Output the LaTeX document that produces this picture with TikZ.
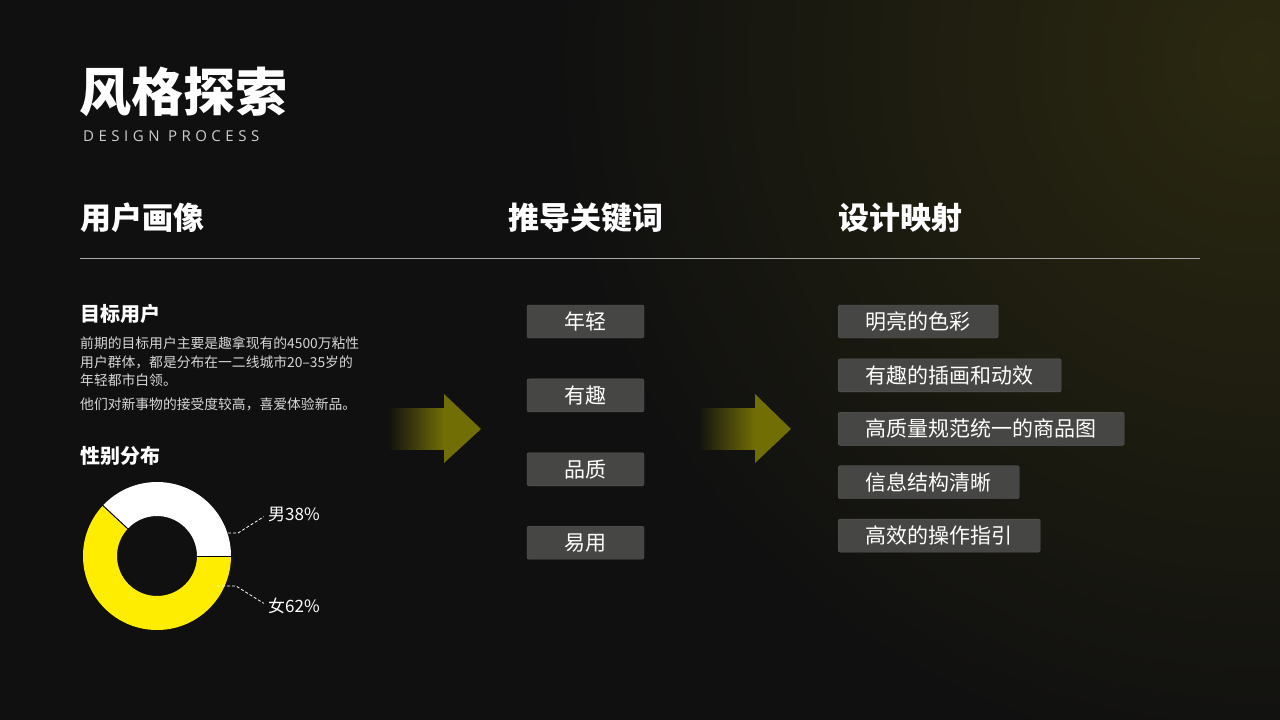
\documentclass[tikz,border=0pt]{standalone}
\usepackage{fontspec}
\setmainfont{Noto Sans CJK SC}
\newfontfamily\latinfont[LetterSpace=30]{Open Sans}
\usepackage{tikz}
\usetikzlibrary{positioning,calc,fadings}

\definecolor{bgcol}{RGB}{16,16,16}
\definecolor{glowcol}{RGB}{58,55,16}
\definecolor{arrowcol}{RGB}{114,110,6}
\definecolor{boxcol}{RGB}{70,70,68}
\definecolor{boxline}{RGB}{90,90,86}
\definecolor{donutyellow}{RGB}{255,237,0}
\definecolor{ruleline}{RGB}{170,170,170}
\definecolor{paratext}{RGB}{215,215,215}
\definecolor{subtext}{RGB}{205,205,205}

\tikzfading[name=glowfade, inner color=transparent!35, outer color=transparent!100]

\tikzstyle{title} = [anchor=west, inner sep=0, text=white,
                     font=\fontsize{52}{60}\selectfont\bfseries]
\tikzstyle{heading} = [anchor=west, inner sep=0, text=white,
                       font=\fontsize{31}{36}\selectfont\bfseries]
\tikzstyle{subhead} = [anchor=west, inner sep=0, text=white,
                       font=\fontsize{20}{24}\selectfont\bfseries]
\tikzstyle{para} = [anchor=north west, inner sep=0, align=left, text=paratext,
                    font=\fontsize{13.8}{18.5}\selectfont]
\tikzstyle{keybox} = [rectangle, draw=boxline, fill=boxcol, rounded corners=2pt,
    minimum width=117pt, minimum height=33pt, text=white,
    font=\fontsize{21}{24}\selectfont]
\tikzstyle{mapbox} = [keybox, minimum width=0pt, inner xsep=27.5pt]
\tikzstyle{leader} = [draw=white, densely dashed, line width=0.8pt]
\tikzstyle{pielabel} = [anchor=west, inner sep=0, text=white,
                        font=\fontsize{17}{20}\selectfont]

% fading shaft + solid head, #1 shaft start, #2 head base, #3 tip
\newcommand{\fadearrow}[3]{%
  \fill[arrowcol, path fading=west] (#1,408) rectangle (#2,450);
  \fill[arrowcol] (#2,394) -- (#3,429) -- (#2,463) -- cycle;
}

\begin{document}
\begin{tikzpicture}[x=1pt, y=-1pt]
  % Background
  \useasboundingbox (0,0) rectangle (1280,720);
  \fill[bgcol] (0,0) rectangle (1280,720);
  \fill[glowcol, path fading=glowfade] (1260,60) circle (720);

  % Title
  \node [title] (title) at (79,92) {风格探索};
  \node [anchor=west, inner sep=0, text=subtext,
         font=\latinfont\fontsize{15}{18}\selectfont] (subtitle) at (83,136) {DESIGN PROCESS};

  % Column headings
  \node [heading] (persona) at (80,218) {用户画像};
  \node [heading] (keywords) at (508,218) {推导关键词};
  \node [heading] (mapping) at (838,218) {设计映射};
  \draw [ruleline, line width=0.8pt] (80,258) -- (1200,258);

  % Persona text
  \node [subhead] (target) at (80,314) {目标用户};
  \node [para] (desc) at (80,336.5) {前期的目标用户主要是趣拿现有的4500万粘性\\
    用户群体，都是分布在一二线城市20--35岁的\\年轻都市白领。};
  \node [para] (desc2) at (80,398) {他们对新事物的接受度较高，喜爱体验新品。};
  \node [subhead] (gender) at (80,456) {性别分布};

  % Donut chart
  \coordinate (pie) at (157,556);
  \fill [white] ($(pie)+(0:74)$) arc [start angle=0, end angle=-137, radius=74]
    -- ($(pie)+(-137:40)$) arc [start angle=-137, end angle=0, radius=40] -- cycle;
  \fill [donutyellow] ($(pie)+(-137:74)$) arc [start angle=-137, end angle=-360, radius=74]
    -- ($(pie)+(0:40)$) arc [start angle=-360, end angle=-137, radius=40] -- cycle;
  \draw [black, line width=1pt] ($(pie)+(0:39)$) -- ($(pie)+(0:75)$);
  \draw [black, line width=1pt] ($(pie)+(-137:39)$) -- ($(pie)+(-137:75)$);

  % Donut labels
  \node [pielabel] (male) at (268,514) {男38\%};
  \node [pielabel] (female) at (268,606) {女62\%};
  \coordinate (malept) at (228,533);
  \coordinate (femalept) at (217,586);
  \draw [leader, shorten >=5pt] (malept) -- ++(10,0) -- (male.west);
  \draw [leader, shorten >=5pt] (femalept) -- ++(19,0) -- (female.west);

  % Arrows
  \fadearrow{388}{444}{481}
  \fadearrow{698}{755}{791}

  % Keywords
  \node [keybox] (kw1) at (585.5,321.5) {年轻};
  \node [keybox, below=40.5pt of kw1] (kw2) {有趣};
  \node [keybox, below=40.5pt of kw2] (kw3) {品质};
  \node [keybox, below=40pt of kw3] (kw4) {易用};

  % Design mapping
  \node [mapbox, anchor=west] (map1) at (838,321.5) {明亮的色彩};
  \node [mapbox, below right=20.5pt and 0pt of map1.south west] (map2) {有趣的插画和动效};
  \node [mapbox, below right=20pt and 0pt of map2.south west] (map3) {高质量规范统一的商品图};
  \node [mapbox, below right=20pt and 0pt of map3.south west] (map4) {信息结构清晰};
  \node [mapbox, below right=20pt and 0pt of map4.south west] (map5) {高效的操作指引};
\end{tikzpicture}
\end{document}
